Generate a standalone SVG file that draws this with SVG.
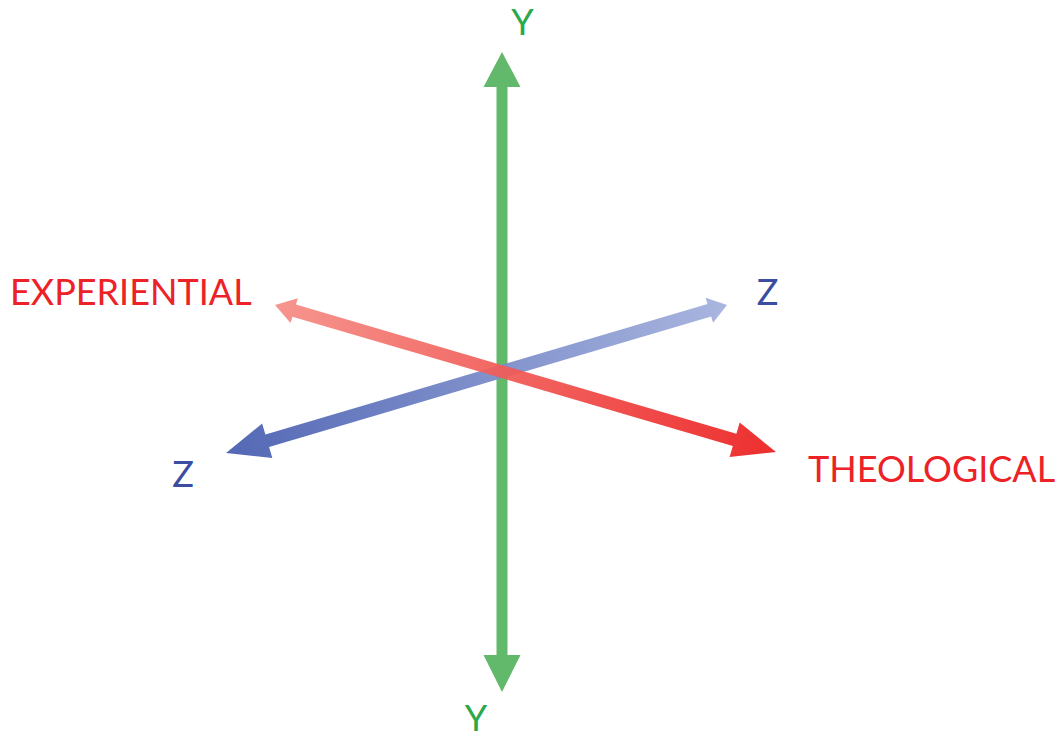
<svg xmlns="http://www.w3.org/2000/svg" width="1063" height="738" viewBox="0 0 1063 738">
  <style>
    .lbl { font-family: Lato, "Liberation Sans", sans-serif; font-size: 36px; }
    .g { fill: #2ba84a; }
    .r { fill: #ec2227; }
    .b { fill: #3b4da0; }
  </style>
  <defs>
    <linearGradient id="redGrad" x1="0" y1="0" x2="1" y2="0">
      <stop offset="0" stop-color="#f58e86"/>
      <stop offset="1" stop-color="#ec1f1f"/>
    </linearGradient>
    <linearGradient id="blueGrad" x1="0" y1="0" x2="1" y2="0">
      <stop offset="0" stop-color="#4a60b1"/>
      <stop offset="1" stop-color="#a5b2de"/>
    </linearGradient>
  </defs>
  <rect width="1063" height="738" fill="#ffffff"/>
  <g id="connectors">
    <g id="y-axis">
      <polygon fill="#63b96b" points="502,52 520.5,87 507.5,87 507.5,655 520.5,655 502,692 483.5,655 496.5,655 496.5,87 483.5,87"/>
    </g>
    <g id="z-axis" transform="translate(226,453) rotate(-16.46)" opacity="0.95">
      <polygon fill="url(#blueGrad)" points="0,0 43,-18 43,-6.5 504,-6.5 504,-13 522.4,0 504,13 504,6.5 43,6.5 43,18"/>
    </g>
    <g id="x-axis" transform="translate(275,305) rotate(16.35)" opacity="0.93">
      <polygon fill="url(#redGrad)" points="0,0 20,-13 20,-6.3 479,-6.3 479,-18 522.1,0 479,18 479,6.3 20,6.3 20,13"/>
    </g>
  </g>
  <g id="label-y-top"><text class="lbl g" x="522.5" y="35" text-anchor="middle">Y</text></g>
  <g id="label-y-bottom"><text class="lbl g" x="476" y="731" text-anchor="middle">Y</text></g>
  <g id="label-experiential"><text class="lbl r" x="10" y="305">EXPERIENTIAL</text></g>
  <g id="label-theological"><text class="lbl r" x="808" y="482">THEOLOGICAL</text></g>
  <g id="label-z-top"><text class="lbl b" x="767.5" y="305" text-anchor="middle">Z</text></g>
  <g id="label-z-bottom"><text class="lbl b" x="183" y="487" text-anchor="middle">Z</text></g>
</svg>
